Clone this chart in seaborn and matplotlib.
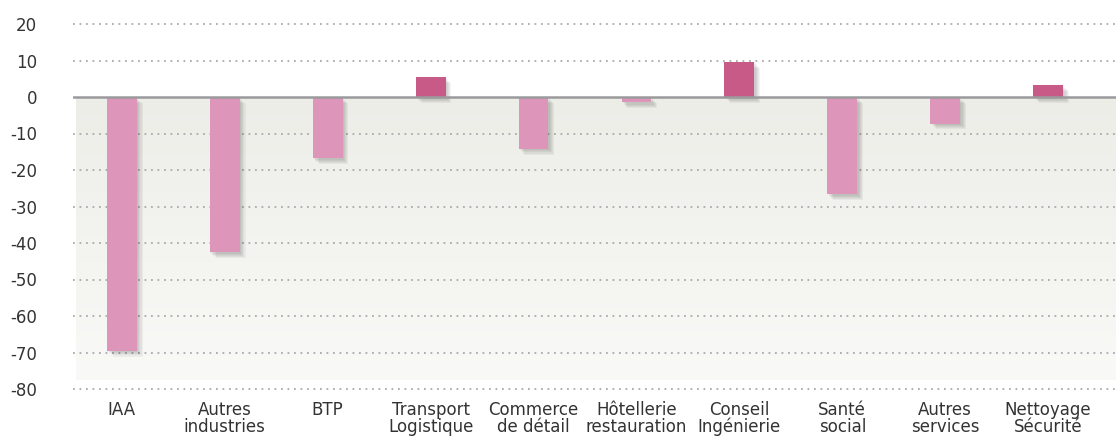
import numpy as np
import pandas as pd
import matplotlib
matplotlib.use("Agg")
import matplotlib.pyplot as plt
import matplotlib.patheffects as pe
from matplotlib.colors import LinearSegmentedColormap
import seaborn as sns

categories = ["IAA", "Autres\nindustries", "BTP", "Transport\nLogistique",
              "Commerce\nde détail", "Hôtellerie\nrestauration", "Conseil\nIngénierie",
              "Santé\nsocial", "Autres\nservices", "Nettoyage\nSécurité"]
values = [-69.5, -42.5, -16.8, 5.5, -14.2, -1.4, 9.6, -26.7, -7.3, 3.2]
y_ticks = [20, 10, 0, -10, -20, -30, -40, -50, -60, -70, -80]

NEG_COLOR = "#dd96b9"
POS_COLOR = "#c85a87"
TEXT_COLOR = "#333333"

sns.set_theme(style="white")
plt.rcParams["font.family"] = ["Liberation Sans Narrow", "DejaVu Sans"]

df = pd.DataFrame({"cat": categories, "val": values})
palette = [POS_COLOR if v > 0 else NEG_COLOR for v in values]

W, H = 1116, 437
fig = plt.figure(figsize=(W / 100, H / 100), dpi=100)
y_lo, y_hi = -80.5, 20.5
px_per_unit = 3.65
top_px = 24 - 0.5 * px_per_unit
bot_px = 389 + 0.5 * px_per_unit
left_px = 73
ax = fig.add_axes([left_px / W, 1 - bot_px / H, 1 - left_px / W, (bot_px - top_px) / H])

sns.barplot(data=df, x="cat", y="val", hue="cat", palette=palette, legend=False,
            width=0.29, saturation=1, ax=ax, zorder=2)

x_lo, x_hi = -0.475, 9.66

# soft grey gradient under the zero line
grad_cmap = LinearSegmentedColormap.from_list("bg", ["#edede8", "#f9f9f7"])
grad = np.linspace(0, 1, 256).reshape(-1, 1)
ax.imshow(grad, cmap=grad_cmap, aspect="auto", interpolation="bilinear",
          extent=[x_lo + 0.03, x_hi, -77.5, 0], origin="upper", zorder=0)
ax.set_xlim(x_lo, x_hi)
ax.set_ylim(y_lo, y_hi)

# dotted horizontal grid
for t in y_ticks:
    if t != 0:
        ax.axhline(t, color="#aaaaaa", lw=1.3, ls=(0, (1, 2.6)), zorder=1, clip_on=False)

# soft drop shadow on the bars
shadow = [pe.SimplePatchShadow(offset=(o, -o), shadow_rgbFace="black", alpha=0.045)
          for o in (1.0, 1.8, 2.6, 3.4, 4.2)]
for p in ax.patches:
    p.set_path_effects(shadow + [pe.Normal()])
    p.set_edgecolor("none")

ax.axhline(0, color="#9a9a9d", lw=1.8, zorder=3)

ax.set_yticks(y_ticks)
ax.set_yticklabels([str(t) for t in y_ticks])
ax.tick_params(axis="y", length=0, pad=26, labelsize=12, labelcolor=TEXT_COLOR)
ax.tick_params(axis="x", length=0, pad=7, labelsize=12, labelcolor=TEXT_COLOR)
for lab in ax.get_xticklabels():
    lab.set_linespacing(0.95)
ax.set_xlabel("")
ax.set_ylabel("")
for s in ax.spines.values():
    s.set_visible(False)
ax.grid(False)

fig.savefig("out.png", dpi=100, facecolor="white")
